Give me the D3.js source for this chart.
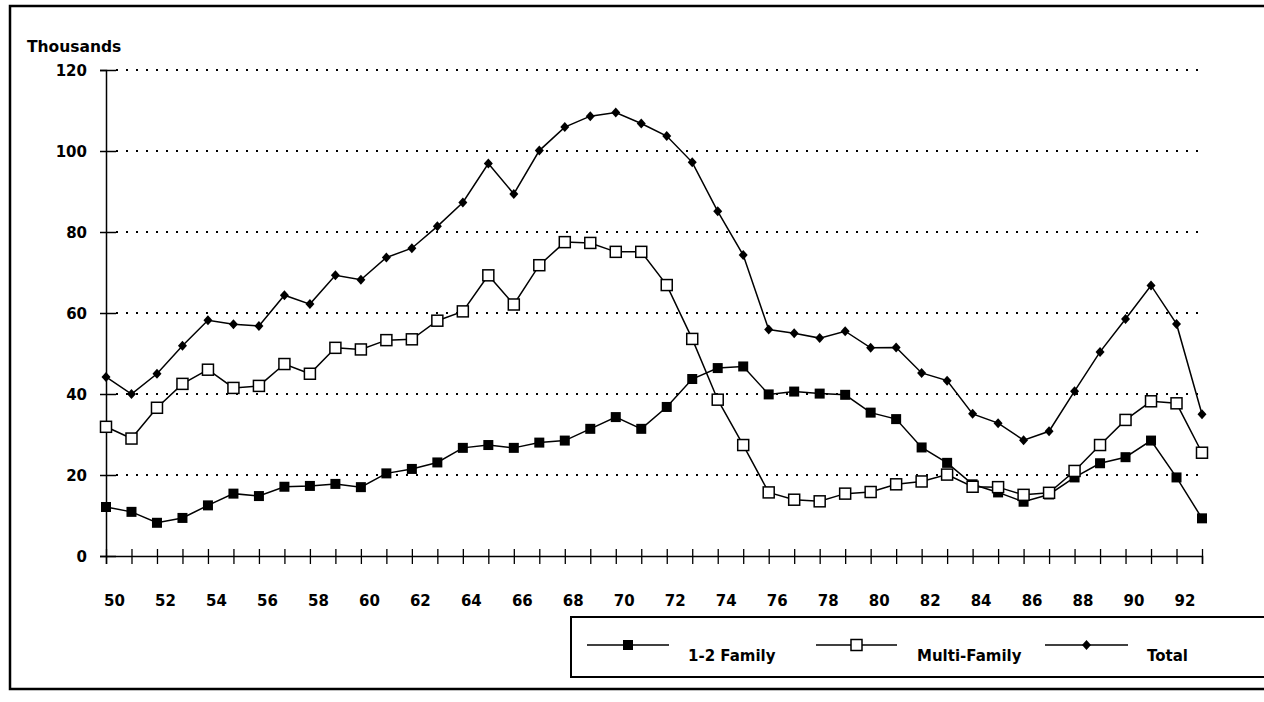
<!DOCTYPE html>
<html>
<head>
<meta charset="utf-8">
<script src="https://cdn.jsdelivr.net/npm/d3@7"></script>
<style>
body { margin: 0; background: #fff; }
svg text { font-family: "DejaVu Sans", sans-serif; font-weight: bold; fill: #000; }
</style>
</head>
<body>
<div id="chart"></div>
<script>
var years = [50, 51, 52, 53, 54, 55, 56, 57, 58, 59, 60, 61, 62, 63, 64, 65, 66, 67, 68, 69, 70, 71,
	72, 73, 74, 75, 76, 77, 78, 79, 80, 81, 82, 83, 84, 85, 86, 87, 88, 89, 90, 91, 92, 93];

var family12 = [12.1, 10.9, 8.2, 9.4, 12.5, 15.4, 14.8, 17.1, 17.3, 17.8, 17.0, 20.4, 21.5, 23.1,
	26.7, 27.4, 26.7, 28.0, 28.5, 31.4, 34.3, 31.4, 36.8, 43.7, 46.4, 46.8, 39.9, 40.6, 40.1, 39.8,
	35.4, 33.8, 26.8, 23.0, 17.7, 15.7, 13.4, 15.2, 19.4, 22.9, 24.4, 28.5, 19.4, 9.3];

var multiFamily = [31.9, 29.0, 36.6, 42.5, 46.0, 41.5, 42.0, 47.4, 45.0, 51.4, 51.0, 53.3, 53.5, 58.1,
	60.4, 69.3, 62.1, 71.8, 77.5, 77.3, 75.1, 75.1, 66.9, 53.6, 38.6, 27.4, 15.7, 13.9, 13.5, 15.4,
	15.8, 17.7, 18.4, 20.1, 17.1, 17.0, 15.1, 15.6, 21.0, 27.4, 33.6, 38.2, 37.7, 25.5];

var total = [44.2, 40.0, 45.0, 51.9, 58.2, 57.2, 56.8, 64.4, 62.2, 69.3, 68.2, 73.7, 76.0, 81.4,
	87.3, 96.9, 89.4, 100.1, 105.9, 108.6, 109.5, 106.8, 103.7, 97.2, 85.1, 74.3, 55.9, 55.0, 53.8, 55.5,
	51.4, 51.5, 45.2, 43.3, 35.1, 32.8, 28.6, 30.8, 40.7, 50.4, 58.5, 66.8, 57.3, 35.0];

var yTicks = [0, 20, 40, 60, 80, 100, 120];
var xLabels = [50, 52, 54, 56, 58, 60, 62, 64, 66, 68, 70, 72, 74, 76, 78, 80, 82, 84, 86, 88, 90, 92];

var seriesNames = ["1-2 Family", "Multi-Family", "Total"];
var seriesData = [family12, multiFamily, total];
var seriesMarks = ["filled", "open", "diamond"];

var width = 1264, height = 702;

var svg = d3.select("#chart")
.append("svg")
.attr("width", width)
.attr("height", height);

// page frame
svg.append("path")
.attr("d", "M1270,6 H10 V689 H1270")
.attr("fill", "none")
.attr("stroke", "#000")
.attr("stroke-width", 2.5);

var xScale = d3.scaleLinear()
.domain([d3.min(years), d3.max(years)])
.range([106, 1202]);

var yScale = d3.scaleLinear()
.domain([0, 120])
.range([556, 70]);

// dotted gridlines
svg.selectAll(".grid")
.data(yTicks.filter(function(d) { return d > 0; }))
.enter()
.append("line")
.attr("class", "grid")
.attr("x1", xScale(50) + 10)
.attr("x2", xScale(93))
.attr("y1", function(d) { return yScale(d); })
.attr("y2", function(d) { return yScale(d); })
.attr("stroke", "#000")
.attr("stroke-width", 2)
.attr("stroke-dasharray", "2,8");

// y axis
var yAxis = svg.append("g")
.attr("transform", "translate(" + xScale(50) + ",0)")
.call(d3.axisLeft(yScale).tickValues(yTicks).tickSize(6).tickPadding(13));

yAxis.select(".domain").attr("stroke-width", 1.5);
yAxis.selectAll(".tick line").attr("x1", 10).attr("stroke-width", 1.5);
yAxis.selectAll(".tick text")
.attr("font-size", 15)
.attr("font-family", "DejaVu Sans")
.attr("dy", "0.38em");

// x axis
var xAxis = svg.append("g")
.attr("transform", "translate(0," + yScale(0) + ")")
.call(d3.axisBottom(xScale)
	.tickValues(years)
	.tickSize(8)
	.tickFormat(function(d) { return xLabels.indexOf(d) >= 0 ? d : ""; }));

xAxis.select(".domain").attr("stroke-width", 1.5);
xAxis.selectAll(".tick line").attr("y1", -7).attr("stroke-width", 1.3);
xAxis.selectAll(".tick text")
.attr("font-size", 15)
.attr("font-family", "DejaVu Sans")
.attr("x", 8)
.attr("y", 50)
.attr("dy", 0);

svg.append("text")
.attr("x", 27)
.attr("y", 52)
.attr("font-size", 15.5)
.text("Thousands");

// draws one marker of a given kind at (x, y)
function drawMarker(g, kind, x, y) {
	if (kind == "filled") {
		g.append("rect")
		.attr("x", x - 5).attr("y", y - 5)
		.attr("width", 10).attr("height", 10)
		.attr("fill", "#000");
	} else if (kind == "open") {
		g.append("rect")
		.attr("x", x - 5.5).attr("y", y - 5.5)
		.attr("width", 11).attr("height", 11)
		.attr("fill", "#fff")
		.attr("stroke", "#000")
		.attr("stroke-width", 1.5);
	} else {
		g.append("path")
		.attr("d", "M" + x + "," + (y - 5) + " L" + (x + 4.5) + "," + y + " L" + x + "," + (y + 5) + " L" + (x - 4.5) + "," + y + "Z")
		.attr("fill", "#000");
	}
}

var line = d3.line()
.x(function(d) { return xScale(d.year); })
.y(function(d) { return yScale(d.value); });

seriesData.forEach(function(values, s) {
	var pts = values.map(function(v, i) { return {year: years[i], value: v}; });
	var g = svg.append("g").attr("class", "series");
	g.append("path")
	.datum(pts)
	.attr("d", line)
	.attr("fill", "none")
	.attr("stroke", "#000")
	.attr("stroke-width", 1.5);
	pts.forEach(function(p) {
		drawMarker(g, seriesMarks[s], xScale(p.year), yScale(p.value));
	});
});

// legend
var legend = svg.append("g");

legend.append("path")
.attr("d", "M1270,617 H571 V677 H1270")
.attr("fill", "none")
.attr("stroke", "#000")
.attr("stroke-width", 2);

var legendLines = [[587, 669], [816, 897], [1045, 1128]];
var legendText = [688, 917, 1147];

seriesNames.forEach(function(name, s) {
	var g = legend.append("g");
	g.append("line")
	.attr("x1", legendLines[s][0])
	.attr("x2", legendLines[s][1])
	.attr("y1", 645)
	.attr("y2", 645)
	.attr("stroke", "#000")
	.attr("stroke-width", 1.3);
	drawMarker(g, seriesMarks[s], (legendLines[s][0] + legendLines[s][1]) / 2, 645);
	g.append("text")
	.attr("x", legendText[s])
	.attr("y", 661)
	.attr("font-size", 15)
	.text(name);
});
</script>
</body>
</html>
